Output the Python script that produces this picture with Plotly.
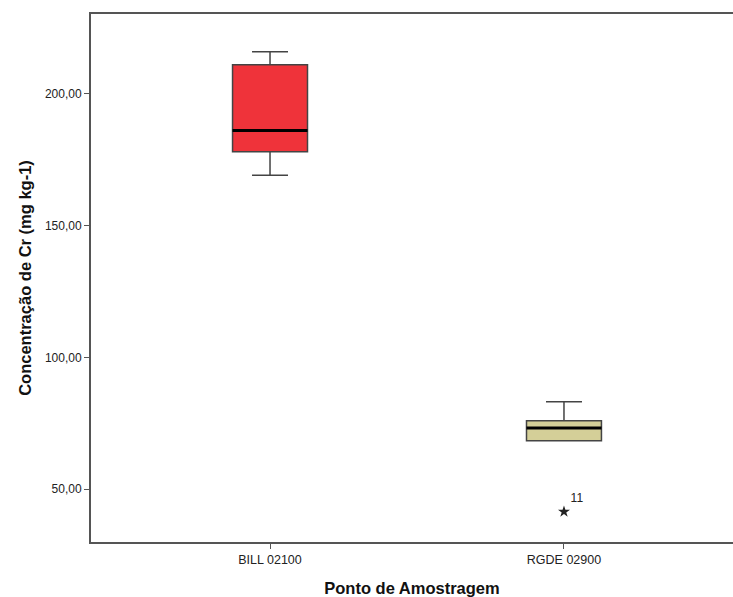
import plotly.graph_objects as go

categories = ["BILL 02100", "RGDE 02900"]
q1 = [178.0, 68.3]
median = [186.1, 73.2]
q3 = [211.0, 75.9]
lower = [169.1, 68.3]
upper = [216.0, 83.1]
fills = ["#EF333A", "#D4CF98"]

outlier_cat = ["RGDE 02900"]
outlier_val = [41.4]
outlier_lbl = ["11"]

ytick_vals = [50, 100, 150, 200]
ytick_text = ["50,00", "100,00", "150,00", "200,00"]

fig = go.Figure()
for i, c in enumerate(categories):
    fig.add_trace(go.Box(
        x=[c], q1=[q1[i]], median=[median[i]], q3=[q3[i]],
        lowerfence=[lower[i]], upperfence=[upper[i]],
        fillcolor=fills[i], line=dict(color="#444444", width=1.5),
        width=0.255, whiskerwidth=0.48, boxpoints=False, showlegend=False,
        hoverinfo="skip"))
    # thick median line
    fig.add_trace(go.Box(
        x=[c], q1=[median[i]], median=[median[i]], q3=[median[i]],
        lowerfence=[median[i]], upperfence=[median[i]],
        fillcolor="rgba(0,0,0,0)", line=dict(color="#000000", width=3),
        width=0.255, whiskerwidth=0, boxpoints=False, showlegend=False,
        hoverinfo="skip"))

fig.add_trace(go.Scatter(
    x=outlier_cat, y=outlier_val, mode="markers+text", text=outlier_lbl,
    textposition="top right", textfont=dict(size=12, color="#222222"),
    marker=dict(symbol="star", size=9, color="#222222"),
    showlegend=False, hoverinfo="skip"))

fig.update_layout(
    width=733, height=597,
    margin=dict(l=91, r=0, t=14, b=55),
    paper_bgcolor="white", plot_bgcolor="white",
    font=dict(family="Liberation Sans, Arial, sans-serif", size=12, color="#222222"),
    boxmode="overlay",
)
fig.update_xaxes(
    type="category", categoryorder="array", categoryarray=categories,
    range=[-0.609, 1.575], showgrid=False, zeroline=False,
    showline=True, linecolor="#555555", linewidth=2, mirror=True,
    ticks="outside", ticklen=5, tickcolor="#555555", tickwidth=1,
    tickfont=dict(size=12.5, color="#222222"),
    title=dict(text="<b>Ponto de Amostragem</b>", font=dict(size=16.5, color="#111111"), standoff=17),
)
fig.update_yaxes(
    range=[29.9, 230.3], showgrid=False, zeroline=False,
    showline=True, linecolor="#555555", linewidth=2,
    ticks="outside", ticklen=5, tickcolor="#555555", tickwidth=1,
    tickvals=ytick_vals, ticktext=ytick_text,
    tickfont=dict(size=12, color="#222222"),
    title=dict(text="<b>Concentração de Cr (mg kg-1)</b>", font=dict(size=16.5, color="#111111"), standoff=9),
)

fig.write_html(
    "out.html",
    config={"displayModeBar": False},
    post_script="document.body.style.margin='0';document.body.style.overflow='hidden';",
)
